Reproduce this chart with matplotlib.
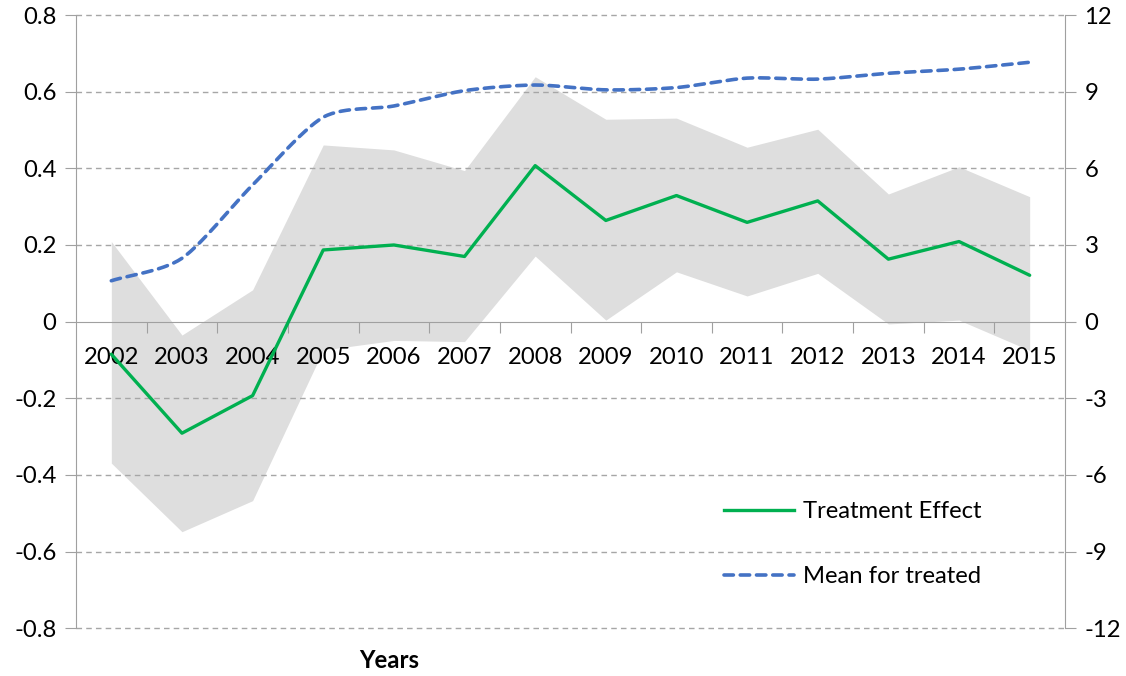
import numpy as np
import matplotlib
matplotlib.use("Agg")
import matplotlib.pyplot as plt
from matplotlib.lines import Line2D

years = ["2002", "2003", "2004", "2005", "2006", "2007", "2008",
         "2009", "2010", "2011", "2012", "2013", "2014", "2015"]
treatment_effect = [-0.085, -0.291, -0.193, 0.187, 0.200, 0.170, 0.407,
                    0.264, 0.329, 0.259, 0.315, 0.163, 0.209, 0.121]
ci_upper = [0.209, -0.035, 0.083, 0.461, 0.448, 0.394, 0.639,
            0.528, 0.531, 0.455, 0.502, 0.333, 0.404, 0.326]
ci_lower = [-0.369, -0.548, -0.467, -0.074, -0.049, -0.052, 0.171,
            0.004, 0.130, 0.067, 0.126, -0.006, 0.004, -0.075]
mean_treated = [1.60, 2.48, 5.35, 8.00, 8.44, 9.04, 9.26,
                9.07, 9.16, 9.53, 9.49, 9.72, 9.88, 10.15]
left_ticks = [-0.8, -0.6, -0.4, -0.2, 0, 0.2, 0.4, 0.6, 0.8]
right_ticks = [-12, -9, -6, -3, 0, 3, 6, 9, 12]

plt.rcParams['font.family'] = ['Lato', 'DejaVu Sans']
FS = 17.2
GRID = '#a6a6a6'
AXC = '#a0a0a0'

fig = plt.figure(figsize=(11.26, 6.76), dpi=100)
ax = fig.add_axes([76/1126, 1-628.3/676, (1065-76)/1126, (628.3-15)/676])
ax2 = ax.twinx()

n = len(years)
xc = np.arange(n) + 0.5

# band
ax.fill_between(xc, ci_lower, ci_upper, color='#dedede', lw=0, zorder=1)
# grid
for t in left_ticks:
    if t != 0:
        ax.axhline(t, color=GRID, lw=1.0, ls=(0, (4, 3)), zorder=2, clip_on=False)
# green line
ax.plot(xc, treatment_effect, color='#00b050', lw=2.4, zorder=4,
        solid_capstyle='round', solid_joinstyle='round')

ax.set_xlim(0, n)
ax.set_ylim(-0.8, 0.8)
ax.set_yticks(left_ticks)
ax.set_yticklabels([("%g" % t) for t in left_ticks])
ax.spines['top'].set_visible(False)
ax.spines['right'].set_visible(False)
ax.spines['left'].set_color(AXC)
ax.spines['bottom'].set_position(('data', 0))
ax.spines['bottom'].set_color(AXC)
ax.spines['bottom'].set_zorder(3)
ax.set_xticks(np.arange(1, n))
ax.set_xticklabels([])
ax.set_xticks(xc, minor=True)
ax.set_xticklabels(years, minor=True)
ax.tick_params(axis='x', which='major', length=8, color=AXC, direction='out')
ax.tick_params(axis='x', which='minor', length=0, pad=18, labelsize=FS)
ax.tick_params(axis='y', length=8, color=AXC, pad=6, labelsize=FS)

# smooth blue line (cardinal spline through the data points)
xs = np.asarray(xc, float)
ys = np.asarray(mean_treated, float)
px = np.concatenate([[2*xs[0]-xs[1]], xs, [2*xs[-1]-xs[-2]]])
py = np.concatenate([[2*ys[0]-ys[1]], ys, [2*ys[-1]-ys[-2]]])
cx, cy = [], []
tt = np.linspace(0, 1, 30)
K = 0.8
def herm(a0, a1, a2, a3, t):
    m1 = K * (a2 - a0) / 2
    m2 = K * (a3 - a1) / 2
    h00 = 2*t**3 - 3*t**2 + 1
    h10 = t**3 - 2*t**2 + t
    h01 = -2*t**3 + 3*t**2
    h11 = t**3 - t**2
    return h00*a1 + h10*m1 + h01*a2 + h11*m2
for i in range(1, len(px)-2):
    cx.extend(herm(px[i-1], px[i], px[i+1], px[i+2], tt))
    cy.extend(herm(py[i-1], py[i], py[i+1], py[i+2], tt))
ax2.plot(cx, cy, color='#4472c4', lw=2.6, dashes=(2.6, 1.9),
         dash_capstyle='round', zorder=5)
ax2.set_ylim(-12, 12)
ax2.set_yticks(right_ticks)
ax2.set_yticklabels([str(t) for t in right_ticks])
for s in ['top', 'left', 'bottom']:
    ax2.spines[s].set_visible(False)
ax2.spines['right'].set_color(AXC)
ax2.tick_params(axis='y', length=8, color=AXC, pad=6, labelsize=FS)

handles = [Line2D([], [], color='#00b050', lw=2.4),
           Line2D([], [], color='#4472c4', lw=2.6, dashes=(2.6, 1.9), dash_capstyle='round')]
leg = ax2.legend(handles, ['Treatment Effect', 'Mean for treated'],
                 loc='upper left', bbox_to_anchor=(724/1126, 1-501/676),
                 bbox_transform=fig.transFigure, frameon=False, fontsize=FS,
                 handlelength=2.95, handletextpad=0.35, labelspacing=1.85,
                 borderpad=0, borderaxespad=0)

fig.text(389/1126, 1-661/676, 'Years', ha='center', va='center',
         fontsize=FS, fontweight='bold')

fig.savefig('out.png', dpi=100)
